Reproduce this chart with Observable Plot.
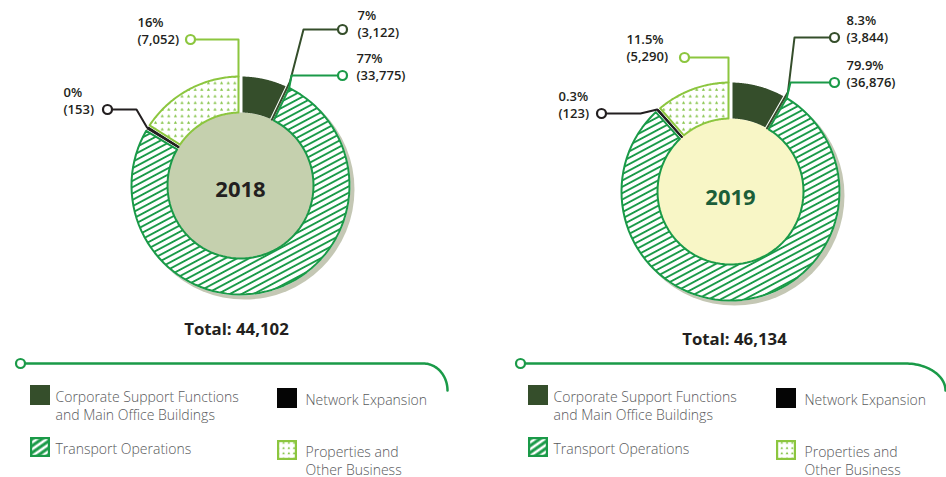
<!DOCTYPE html>
<html><head><meta charset="utf-8">
<script src="https://cdn.jsdelivr.net/npm/d3@7"></script>
<script src="https://cdn.jsdelivr.net/npm/@observablehq/plot@0.6"></script>
<style>html,body{margin:0;padding:0;background:#fff}</style>
</head><body><div id="chart"></div>
<script>
// ---------- DATA ----------
const years = [2018, 2019];
const categories = ["Corporate Support Functions and Main Office Buildings", "Transport Operations", "Network Expansion", "Properties and Other Business"];
const values2018 = [3122, 33775, 153, 7052];
const values2019 = [3844, 36876, 123, 5290];
const percentLabels2018 = ["7%", "77%", "0%", "16%"];
const percentLabels2019 = ["8.3%", "79.9%", "0.3%", "11.5%"];
const totals = [44102, 46134];
const legendCategories = ["Corporate Support Functions and Main Office Buildings", "Network Expansion", "Transport Operations", "Properties and Other Business"];
const legendLabels = ["Corporate Support Functions\nand Main Office Buildings", "Network Expansion", "Transport Operations", "Properties and\nOther Business"];

// ---------- STYLE ----------
const sliceFill = ["#354e2b", "url(#hatch)", "#111111", "url(#dots)"];
const sliceStroke = ["none", "#1a9a48", "#111111", "#8cc63f"];
const sliceStrokeWidth = [0, 2, 0.8, 2];
const leaderColor = ["#354e2b", "#1a9a48", "#231f20", "#8cc63f"];
const swatchFill = ["#354e2b", "url(#hatchL)", "#050505", "url(#dotsL)"];
const swatchStroke = ["none", "#1a9a48", "none", "#8cc63f"];
const FONT = "'Open Sans', 'Noto Sans', sans-serif";
const RO = 109, RI = 73, GAP = 4;

// ---------- LAYOUT ----------
const panels = [
  {year: years[0], values: values2018, pct: percentLabels2018, total: totals[0],
   cx: 240, cy: 185, inner: "#c5d0ae", yearColor: "#231f20", yearBase: 196, totalX: 236, totalBase: 334,
   labels: [{tx: 357, tb: 36, mx: 342, my: 29, ex: 303},
            {tx: 356, tb: 79, mx: 342, my: 75, ex: 291},
            {tx: 63, tb: 113, mx: 107, my: 109, ex: 136},
            {tx: 137, tb: 43, mx: 190, my: 39}],
   legendX: [30, 277], line: {x0: 20, x1: 423, y: 363, rx: 24, ry: 27}},
  {year: years[1], values: values2019, pct: percentLabels2019, total: totals[1],
   cx: 730, cy: 191, inner: "#f8f6c6", yearColor: "#1c5e39", yearBase: 204, totalX: 734, totalBase: 344,
   labels: [{tx: 846, tb: 41, mx: 834, my: 37, ex: 794},
            {tx: 846, tb: 86, mx: 834, my: 82, ex: 790},
            {tx: 558, tb: 117, mx: 601, my: 113, ex: 640},
            {tx: 626, tb: 60, mx: 684, my: 57}],
   legendX: [528, 776], line: {x0: 520, x1: 905, y: 363, rx: 40, ry: 27}}
];
const swatchTop = [[385, 388], [437, 440]];
const textOffset = [25, 28];

const fmt = d3.format(",");
const P = (p, a, r) => [p.cx + r * Math.sin(a), p.cy - r * Math.cos(a)];

const wedgeRows = [], leaderRows = [], markerRows = [], labelRows = [], legendRows = [], legendText = [], lineRows = [], lineMarkers = [];
panels.forEach((p) => {
  const arcs = d3.pie().sort(null).value(d => d)(p.values);
  arcs.forEach((a, i) => {
    const half = i === 2 ? 0 : GAP / 2;
    const po = Math.asin(half / RO), pin = Math.asin(half / RI);
    const pts = [];
    const N = 80;
    for (let k = 0; k <= N; k++) pts.push(P(p, a.startAngle + po + (a.endAngle - a.startAngle - 2 * po) * k / N, RO));
    for (let k = N; k >= 0; k--) pts.push(P(p, a.startAngle + pin + (a.endAngle - a.startAngle - 2 * pin) * k / N, RI));
    pts.push(pts[0]);
    pts.forEach(q => wedgeRows.push({key: p.year + "-" + i, x: q[0], y: q[1], fill: sliceFill[i], stroke: sliceStroke[i], sw: sliceStrokeWidth[i]}));

    // leader
    const L = p.labels[i];
    let path;
    if (i === 0) {
      const b = a.endAngle;
      path = [[L.mx, L.my], [L.ex, L.my], P(p, b, RO + 6), P(p, b, RI)];
    } else if (i === 1) {
      const t = P(p, a.startAngle + po, RO);
      path = [[L.mx, L.my], [L.ex, L.my], t];
    } else if (i === 2) {
      const m = (a.startAngle + a.endAngle) / 2;
      path = [[L.mx, L.my], [L.ex, L.my], P(p, m, RO + 1), P(p, m, RI)];
    } else {
      const t = P(p, a.endAngle - po, RO);
      path = [[L.mx, L.my], [t[0], L.my], t];
    }
    path.forEach(q => leaderRows.push({key: p.year + "-" + i, x: q[0], y: q[1], stroke: leaderColor[i]}));
    markerRows.push({x: L.mx, y: L.my, stroke: leaderColor[i]});
    labelRows.push({x: L.tx, y: L.tb, text: p.pct[i] + "\n(" + fmt(p.values[i]) + ")"});
  });

  legendCategories.forEach((c, j) => {
    const row = Math.floor(j / 2), col = j % 2;
    const ci = categories.indexOf(c);
    const top = swatchTop[row][col];
    const x = p.legendX[col];
    const ins = swatchStroke[ci] === "none" ? 0 : 1.1;
    legendRows.push({x1: x + ins, x2: x + 20 - ins, y1: top + ins, y2: top + 20 - ins, fill: swatchFill[ci], stroke: swatchStroke[ci]});
    const nLines = legendLabels[j].split("\n").length;
    legendText.push({x: x + textOffset[col], y: top + 16 + (nLines - 1) * 18, text: legendLabels[j]});
  });

  const ln = p.line;
  lineRows.push({key: p.year, x: ln.x0, y: ln.y});
  for (let k = 0; k <= 30; k++) {
    const ang = -Math.PI / 2 + (Math.PI / 2) * k / 30;
    lineRows.push({key: p.year, x: ln.x1 + ln.rx * Math.cos(ang), y: ln.y + ln.ry + ln.ry * Math.sin(ang)});
  }
  lineMarkers.push({x: ln.x0, y: ln.y});
});

const svg = Plot.plot({
  width: 946, height: 477, margin: 0,
  x: {domain: [0, 946], range: [0, 946], axis: null},
  y: {domain: [0, 477], range: [0, 477], axis: null},
  color: {type: "identity"},
  style: {fontFamily: FONT, background: "white", overflow: "visible"},
  marks: [
    Plot.dot(panels, {x: d => d.cx + 4, y: d => d.cy + 4, r: RO + 1, fill: "#c4c7b4"}),
    Plot.dot(panels, {x: "cx", y: "cy", r: RO + 1, fill: "white"}),
    Plot.dot(panels, {x: "cx", y: "cy", r: RI, fill: "inner"}),
    Plot.line(wedgeRows.filter(d => d.sw !== 0.8), {x: "x", y: "y", z: "key", fill: "fill", stroke: "stroke", strokeWidth: 2, curve: "linear"}),
    Plot.line(wedgeRows.filter(d => d.sw === 0.8), {x: "x", y: "y", z: "key", fill: "fill", stroke: "stroke", strokeWidth: 0.8, curve: "linear"}),
    Plot.line(leaderRows, {x: "x", y: "y", z: "key", stroke: "stroke", strokeWidth: 2, curve: "linear"}),
    Plot.dot(markerRows, {x: "x", y: "y", r: 4.5, fill: "white", stroke: "stroke", strokeWidth: 2.2}),
    Plot.text(labelRows, {x: "x", y: "y", text: "text", textAnchor: "start", lineAnchor: "bottom", lineHeight: 1.3, fontSize: 13, fontWeight: 600, fill: "#231f20", fontFamily: FONT}),
    Plot.text(panels, {x: "cx", y: "yearBase", text: d => String(d.year), fill: "yearColor", lineAnchor: "bottom", fontSize: 22, fontWeight: 700, fontFamily: FONT}),
    Plot.text(panels, {x: "totalX", y: "totalBase", text: d => "Total: " + fmt(d.total), lineAnchor: "bottom", fontSize: 16.8, fontWeight: 700, fill: "#231f20", fontFamily: FONT}),
    Plot.line(lineRows, {x: "x", y: "y", z: "key", stroke: "#1a9a48", strokeWidth: 2.5, curve: "linear"}),
    Plot.dot(lineMarkers, {x: "x", y: "y", r: 4.5, fill: "white", stroke: "#1a9a48", strokeWidth: 2.2}),
    Plot.rect(legendRows, {x1: "x1", x2: "x2", y1: "y1", y2: "y2", fill: "fill", stroke: "stroke", strokeWidth: 2.2}),
    Plot.text(legendText, {x: "x", y: "y", text: "text", textAnchor: "start", lineAnchor: "bottom", lineHeight: 18 / 14, fontSize: 14, fontWeight: 300, fill: "#58595b", fontFamily: FONT})
  ]
});

// patterns
const defs = d3.select(svg).insert("defs", ":first-child");
function addHatch(id, period, thick, angle, color) {
  const pat = defs.append("pattern").attr("id", id).attr("patternUnits", "userSpaceOnUse")
    .attr("width", 12).attr("height", period).attr("patternTransform", `rotate(${angle})`);
  pat.append("rect").attr("width", 12).attr("height", period).attr("fill", "white");
  pat.append("rect").attr("x", 0).attr("y", (period - thick) / 2).attr("width", 12).attr("height", thick).attr("fill", color);
}
addHatch("hatch", 5.6, 1.9, -28, "#1a9a48");
addHatch("hatchL", 5.6, 3.0, -35, "#1a9a48");
function addDots(id, s, h, color) {
  const pat = defs.append("pattern").attr("id", id).attr("patternUnits", "userSpaceOnUse").attr("width", s).attr("height", s);
  pat.append("rect").attr("width", s).attr("height", s).attr("fill", "white");
  pat.append("path").attr("d", `M${s / 2},${s / 2 - h} L${s / 2 + h},${s / 2 + h * 0.8} L${s / 2 - h},${s / 2 + h * 0.8} Z`).attr("fill", color);
}
addDots("dots", 6.6, 1.6, "#7fc140");
addDots("dotsL", 5.3, 1.3, "#7fc140");

document.getElementById("chart").appendChild(svg);
</script>
</body></html>
